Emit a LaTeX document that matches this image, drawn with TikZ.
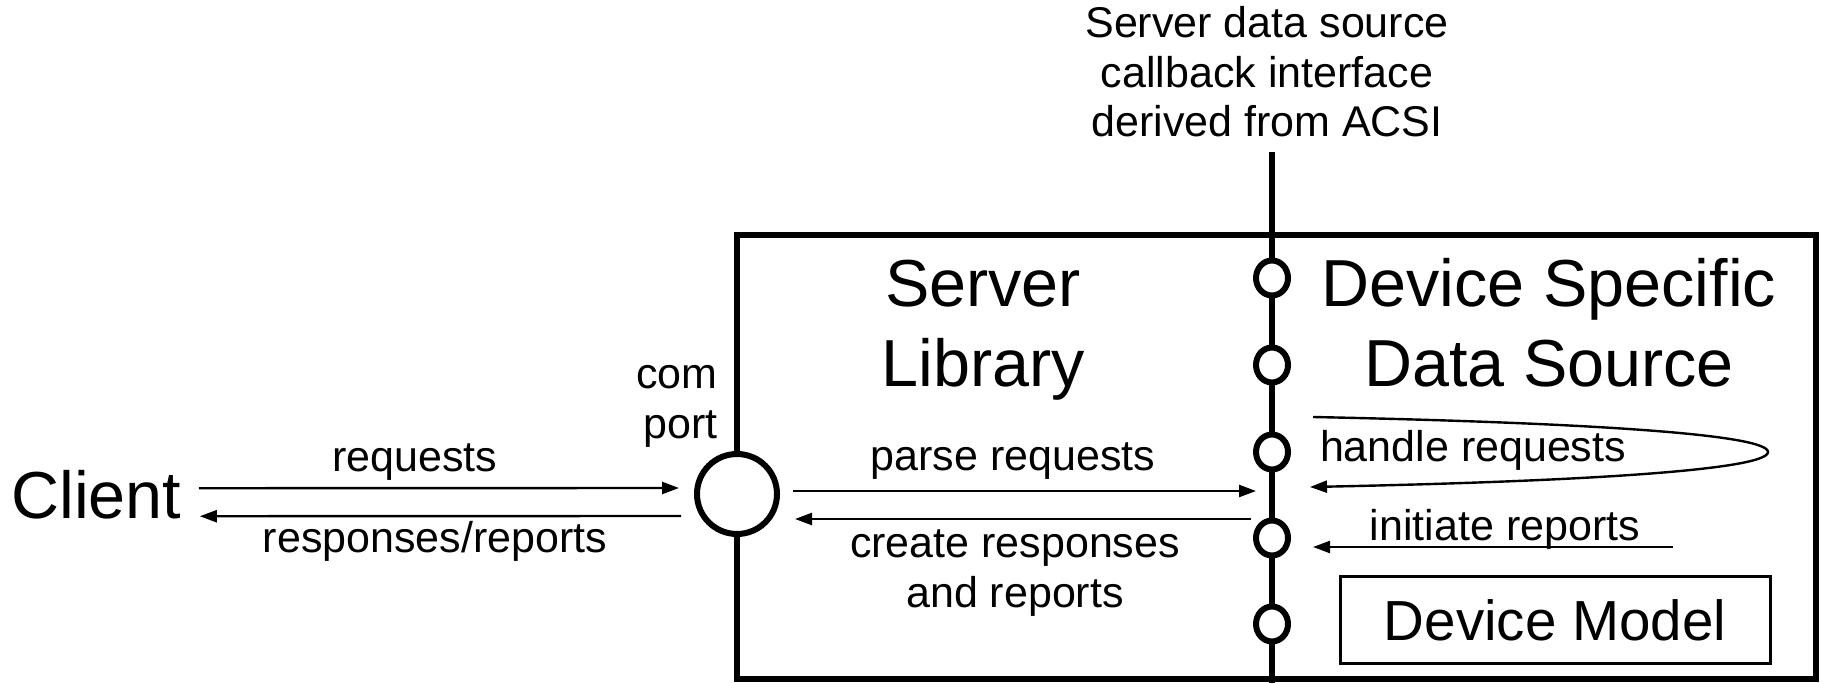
\documentclass[tikz,border=0pt]{standalone}
\usepackage{fontspec}
\setmainfont{Liberation Sans}
\usetikzlibrary{arrows.meta,shapes.geometric}

\tikzset{
  heavy/.style={line width=3pt},
  msg/.style={line width=1.2pt,-{Triangle[length=8.5pt,width=6pt]}},
  lbl/.style={inner sep=0pt,font=\fontsize{21.5pt}{24.75pt}\selectfont},
  bigtext/.style={inner sep=0pt,align=center,font=\fontsize{33.25pt}{40pt}\selectfont},
  socket/.style={ellipse,draw,heavy,fill=white,inner sep=0pt,minimum width=16pt,minimum height=17.5pt},
}

\begin{document}
\begin{tikzpicture}[x=0.5pt,y=-0.5pt]
\useasboundingbox (0,0) rectangle (1823,683);

% server box and the callback interface
\draw[heavy] (737,235) rectangle (1816,679);
\draw[heavy] (1272,152) -- (1272,683);
\foreach \y [count=\i] in {278,365,452,538,624}
  \node[socket] (s\i) at (1272,\y) {};

% multi-line nodes sit on the baseline of their last line
\node[lbl,align=center,anchor=base] (iface) at (1267,137)
  {Server data source\\callback interface\\derived from ACSI};

\node[bigtext,anchor=base] (lib) at (983,387) {Server\\Library};
\node[bigtext,anchor=base] (dsrc) at (1549,387) {Device Specific\\Data Source};
\node[draw,line width=1.5pt,minimum width=215pt,minimum height=43.5pt,inner sep=0pt,
  font=\fontsize{28.25pt}{34pt}\selectfont] (model) at (1555,620) {Device Model};

% client and com port
\node[bigtext,anchor=base west] (client) at (11,518) {Client};
\node[circle,draw,heavy,fill=white,minimum size=40pt,inner sep=0pt] (port) at (737,494) {};
\node[lbl,align=right,anchor=base east] (portlbl) at (718,438) {com\\port};

% messages between the parts
\draw[msg] ([shift={(17,-6)}]client.east) -- ([shift={(-15,-6)}]port.west);
\draw[msg] ([shift={(-13,22)}]port.west) -- ([shift={(18,22)}]client.east);
\node[lbl,anchor=base] (reqlbl) at (415,472) {requests};
\node[lbl,anchor=base] (resplbl) at (435,552) {responses/reports};

\draw[msg] ([shift={(13,-3)}]port.east) -- ([shift={(-16,-3)}]port.east -| s3.center);
\draw[msg] ([shift={(-21,25)}]port.east -| s3.center) -- ([shift={(15,25)}]port.east);
\node[lbl,anchor=base] (parselbl) at (1013,470) {parse requests};
\node[lbl,align=center,anchor=base] (createlbl) at (1015,607) {create responses\\and reports};

% data source side
\coordinate (hrturn) at (1768,452);
\coordinate (irtail) at (1673,547);
\draw[msg] ([shift={(41,-35)}]s3.center) .. controls (1600,423) and (1768,435) .. (hrturn)
  .. controls (1768,469) and (1600,481) .. ([shift={(38,35)}]s3.center);
\node[lbl,anchor=base] (handlelbl) at (1473,461) {handle requests};
\draw[msg] (irtail) -- ([shift={(41,9)}]s4.center);
\node[lbl,anchor=base] (initlbl) at (1505,540) {initiate reports};
\end{tikzpicture}
\end{document}
